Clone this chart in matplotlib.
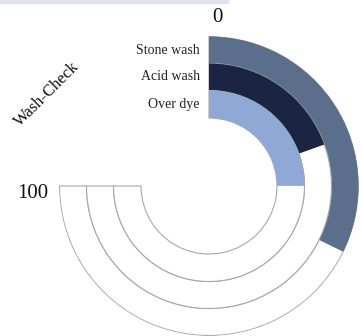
import numpy as np
import matplotlib
matplotlib.use("Agg")
import matplotlib.pyplot as plt

categories = ["Stone wash", "Acid wash", "Over dye"]
values = [43, 26, 33.3]
colors = ["#5b6f8d", "#1c2444", "#8ea9d6"]
max_value = 100
title = "Wash-Check"
tick_labels = ["0", "100"]

W, H = 362, 336
fig = plt.figure(figsize=(W / 100, H / 100), dpi=100)
cx, cy, R = 209, 186, 150
ax = fig.add_axes([(cx - R) / W, (H - cy - R) / H, 2 * R / W, 2 * R / H], projection="polar")
ax.set_theta_zero_location("N")
ax.set_theta_direction(-1)
ax.set_ylim(0, R)
ax.axis("off")

span = 1.5 * np.pi
bottoms = [122.5, 95.5, 68]
heights = [27, 27, 27.5]
for cat, v, c, b, h in zip(categories, values, colors, bottoms, heights):
    ax.bar(0, h, width=span, bottom=b, align="edge", color="white",
           edgecolor="#a8a8a8", linewidth=0.8)
    ax.bar(0, h, width=span * v / max_value, bottom=b, align="edge",
           color=c, edgecolor="none", linewidth=0)

serif = ["Liberation Serif", "DejaVu Serif"]
for cat, b, h in zip(categories, bottoms, heights):
    ypix = cy - (b + h / 2)
    fig.text(200 / W, 1 - ypix / H, cat, ha="right", va="center",
             fontsize=10, family=serif, color="#222222")

fig.text(217 / W, 1 - 18 / H, tick_labels[0], ha="center", va="center",
         fontsize=15, family=serif, color="#111111")
fig.text(48 / W, 1 - 193 / H, tick_labels[1], ha="right", va="center",
         fontsize=15, family=serif, color="#111111")
fig.text(47 / W, 1 - 94 / H, title, ha="center", va="center", rotation=45,
         fontsize=12, family=serif, color="#111111")

fig.patches.append(plt.Rectangle((0, 1 - 3 / H), 228 / W, 3 / H,
                                 transform=fig.transFigure, color="#dfe1f0"))

fig.savefig("out.png", dpi=100)
